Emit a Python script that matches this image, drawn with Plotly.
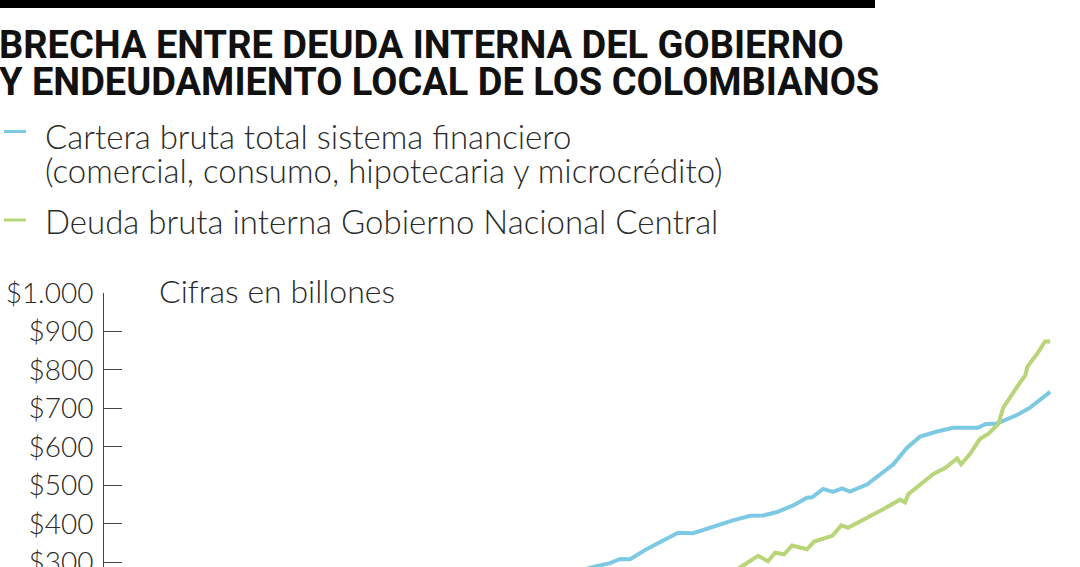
import plotly.graph_objects as go

# ---- data (values in billions of pesos) ----
cartera_x = [2011.95, 2012.41, 2012.84, 2013.10, 2013.35, 2013.78, 2014.19, 2014.57, 2014.95,
             2015.46, 2015.96, 2016.40, 2016.57, 2016.73, 2017.08, 2017.49, 2017.84, 2017.97,
             2018.25, 2018.50, 2018.73, 2018.93, 2019.37, 2019.62, 2020.03, 2020.38, 2020.71,
             2021.14, 2021.55, 2022.18, 2022.36, 2022.66, 2023.17, 2023.50, 2024.01]
cartera_y = [274, 288, 298, 309, 308, 335, 357, 377, 376,
             393, 409, 421, 422, 422, 431, 448, 468, 469,
             491, 483, 492, 484, 503, 522, 555, 598, 627,
             640, 650, 650, 659, 661, 683, 702, 743]

deuda_x = [2016.02, 2016.14, 2016.60, 2016.85, 2017.03, 2017.26, 2017.46, 2017.84, 2018.02,
           2018.48, 2018.71, 2018.88, 2019.29, 2019.77, 2020.20, 2020.33, 2020.41, 2020.71,
           2021.04, 2021.35, 2021.65, 2021.75, 2021.98, 2022.23, 2022.44, 2022.69, 2022.82,
           2023.25, 2023.38, 2023.43, 2023.68, 2023.88, 2024.01]
deuda_y = [279, 287, 317, 303, 325, 321, 344, 334, 354,
           369, 396, 390, 411, 438, 463, 456, 477, 503,
           529, 546, 570, 555, 582, 621, 634, 659, 702,
           768, 786, 808, 842, 874, 874]

tick_vals = [300, 400, 500, 600, 700, 800, 900, 1000]
tick_text = ["$300", "$400", "$500", "$600", "$700", "$800", "$900", "$1.000"]

title_lines = ["BRECHA ENTRE DEUDA INTERNA DEL GOBIERNO",
               "Y ENDEUDAMIENTO LOCAL DE LOS COLOMBIANOS"]
legend_blue = ["Cartera bruta total sistema financiero",
               "(comercial, consumo, hipotecaria y microcrédito)"]
legend_green = ["Deuda bruta interna Gobierno Nacional Central"]
units_note = "Cifras en billones"

BLUE = "#7dc9e4"
GREEN = "#b9d579"

W, H = 1080, 567
PL, PR, PT, PB = 104, 1060, 293, 567

def fx(x):
    return (x - PL) / (PR - PL)

def fy(y):
    return (PB - y) / (PB - PT)

TITLE_FONT = dict(family="Roboto, sans-serif", size=38, color="#111111", weight=700)
LEG_FONT = dict(family="Lato, Open Sans, sans-serif", size=33, color="#2a2a2a", weight=300)
NOTE_FONT = dict(family="Lato, Open Sans, sans-serif", size=32, color="#2a2a2a", weight=300)
TICK_FONT = dict(family="Lato, Open Sans, sans-serif", size=28, color="#2a2a2a", weight=300)

fig = go.Figure()
fig.add_trace(go.Scatter(x=cartera_x, y=cartera_y, mode="lines",
                         line=dict(color=BLUE, width=4), hoverinfo="skip", showlegend=False))
fig.add_trace(go.Scatter(x=deuda_x, y=deuda_y, mode="lines",
                         line=dict(color=GREEN, width=4), hoverinfo="skip", showlegend=False))

annotations = []
def text(x, y, s, font, height=None):
    ann = dict(x=fx(x), y=fy(y), xref="paper", yref="paper", text=s,
               showarrow=False, xanchor="left", yanchor="middle",
               font=font, align="left")
    if height is not None:
        ann["height"] = height
    annotations.append(ann)

text(-3, 45, title_lines[0], TITLE_FONT, height=36)
text(-3, 82, title_lines[1], TITLE_FONT, height=36)
text(43, 136, legend_blue[0], LEG_FONT, height=28)
text(43, 170, legend_blue[1], LEG_FONT)
text(43, 221, legend_green[0], LEG_FONT)
text(157, 290, units_note, NOTE_FONT)

shapes = [
    dict(type="rect", xref="paper", yref="paper", x0=fx(0), x1=fx(875), y0=fy(0), y1=fy(8),
         fillcolor="#000000", line=dict(width=0)),
    dict(type="line", xref="paper", yref="paper", x0=fx(4), x1=fx(26), y0=fy(131.5), y1=fy(131.5),
         line=dict(color=BLUE, width=3)),
    dict(type="line", xref="paper", yref="paper", x0=fx(4), x1=fx(26), y0=fy(220), y1=fy(220),
         line=dict(color=GREEN, width=3)),
]

fig.update_layout(
    width=W, height=H,
    margin=dict(l=PL, r=W - PR, t=PT, b=H - PB, pad=0, autoexpand=False),
    paper_bgcolor="white", plot_bgcolor="white",
    xaxis=dict(visible=False, range=[2000, 2024.26], automargin=False),
    yaxis=dict(range=[288, 1000], tickvals=tick_vals, ticktext=tick_text, automargin=False,
               showgrid=False, zeroline=False, showline=True, linecolor="#444444", linewidth=1,
               ticks="inside", ticklen=18, tickcolor="#444444", tickwidth=1,
               ticklabelstandoff=4, ticklabeloverflow="allow", tickfont=TICK_FONT),
    annotations=annotations, shapes=shapes,
)

fig.write_html("out.html", config={"displayModeBar": False},
               post_script="document.body.style.margin='0px';")
